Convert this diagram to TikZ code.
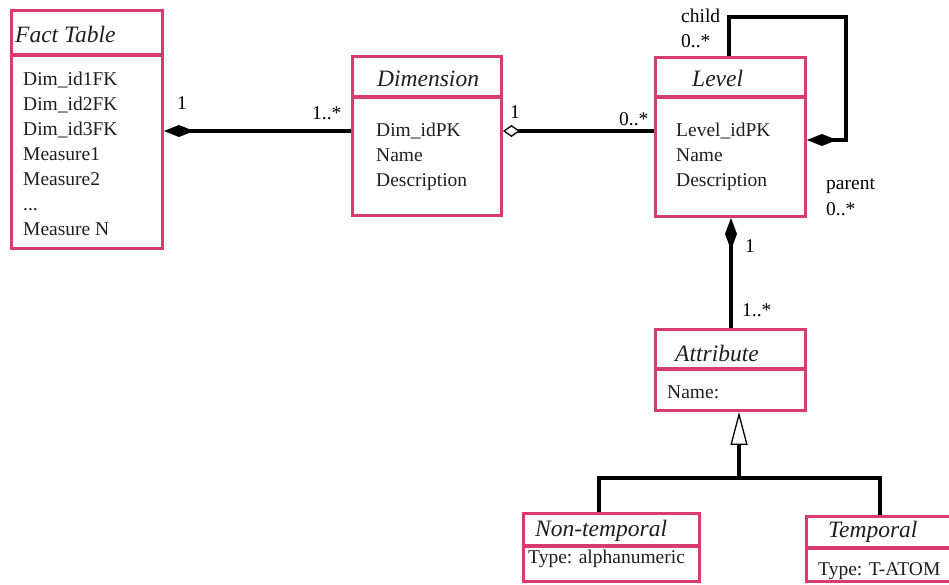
\documentclass[tikz,border=0pt]{standalone}
\usepackage{fontspec}
\setmainfont{Liberation Serif}
\usetikzlibrary{arrows.meta,calc}
\definecolor{umlpink}{RGB}{214,60,112}
\definecolor{txt}{RGB}{30,30,30}
\newcommand\mydots{...}
\tikzset{
  umlbox/.style={draw=umlpink, line width=3.4pt, rectangle, inner sep=0pt},
  hdr/.style={draw=umlpink, line width=3.4pt},
  ttl/.style={anchor=base west, inner sep=0pt, text=txt, font=\fontsize{23.5pt}{28pt}\selectfont\itshape},
  bodytxt/.style={anchor=base west, inner sep=0pt, text=txt, font=\fontsize{19.5pt}{25pt}\selectfont},
  lbl/.style={anchor=base west, inner sep=0pt, text=black, font=\fontsize{19.5pt}{25pt}\selectfont},
  conn/.style={draw=black, line width=3.2pt},
  fdiam/.style={{Diamond[length=30pt,width=12pt]}-},
}
\begin{document}
\begin{tikzpicture}[x=1pt,y=-1pt]
\useasboundingbox (0,0) rectangle (949,584);
% boxes
\node[umlbox, minimum width=150.5pt, minimum height=237.5pt] (fact) at (87,129.5) {};
\node[umlbox, minimum width=148.5pt, minimum height=158.5pt] (dim) at (427,136) {};
\node[umlbox, minimum width=149.5pt, minimum height=158.5pt] (level) at (730.5,137) {};
\node[umlbox, minimum width=149.5pt, minimum height=80.5pt] (attr) at (730.5,370) {};
\node[umlbox, minimum width=175.5pt, minimum height=68pt] (ntemp) at (611.5,547.5) {};
\node[umlbox, minimum width=160pt, minimum height=65pt] (temp) at (886.5,549) {};
% header separators
\draw[hdr] (fact.west |- 0,55) -- (fact.east |- 0,55);
\draw[hdr] (dim.west |- 0,97) -- (dim.east |- 0,97);
\draw[hdr] (level.west |- 0,97) -- (level.east |- 0,97);
\draw[hdr] (attr.west |- 0,369) -- (attr.east |- 0,369);
\draw[hdr] (ntemp.west |- 0,546) -- (ntemp.east |- 0,546);
\draw[hdr] (temp.west |- 0,548) -- (temp.east |- 0,548);
% titles
\node[ttl] (factT) at (15,42.5) {Fact Table};
\node[ttl] (dimT) at (377,86) {Dimension};
\node[ttl] (levelT) at (692,86) {Level};
\node[ttl] (attrT) at (675,361) {Attribute};
\node[ttl] (ntempT) at (535,536) {Non-temporal};
\node[ttl] (tempT) at (828,537) {Temporal};
% bodies
\foreach \t [count=\i] in {Dim\_id1FK,Dim\_id2FK,Dim\_id3FK,Measure1,Measure2,\mydots,Measure N}
  \node[bodytxt, name=fb\i] at (23,60+25*\i) {\t};
\foreach \t [count=\i] in {Dim\_idPK,Name,Description}
  \node[bodytxt, name=db\i] at (376,111+25*\i) {\t};
\foreach \t [count=\i] in {Level\_idPK,Name,Description}
  \node[bodytxt, name=lb\i] at (676,111+25*\i) {\t};
\node[bodytxt] (ab) at (667,398) {Name:};
\node[bodytxt] (nb) at (528,563) {Type: alphanumeric};
\node[bodytxt] (tb) at (818,575) {Type: T-ATOM};
% connectors
\draw[conn, fdiam] (fact.east |- 0,131) -- (dim.west |- 0,131);
\draw[conn, {Diamond[open,fill=white,length=17pt,width=12pt,line width=1.3pt]}-] (dim.east |- 0,131) -- (level.west |- 0,131);
\draw[conn, fdiam] (level.east |- 0,140) -- (846,140) -- (846,17) -- (729,17) -- (level.north -| 729,0);
\draw[conn, {Diamond[length=32pt,width=12pt]}-] (level.south -| 731,0) -- (attr.north -| 731,0);
\coordinate (gj) at (739,478);
\draw[conn, -{Triangle[open,fill=white,length=33pt,width=17pt,line width=1.3pt]}] (gj) -- (attr.south -| gj);
\draw[conn] (ntemp.north -| 599,0) -- (599,478) -- (880,478) -- (temp.north -| 880,0);
% labels
\node[lbl] (l1) at (177,109) {1};
\node[lbl] (l2) at (312,119) {1..*};
\node[lbl] (l3) at (510,118) {1};
\node[lbl] (l4) at (619,125) {0..*};
\node[lbl] (l5) at (681,22.5) {child};
\node[lbl] (l6) at (681,47) {0..*};
\node[lbl] (l7) at (826,189) {parent};
\node[lbl] (l8) at (826,215) {0..*};
\node[lbl] (l9) at (745,252) {1};
\node[lbl] (l10) at (742,316) {1..*};
\end{tikzpicture}
\end{document}
